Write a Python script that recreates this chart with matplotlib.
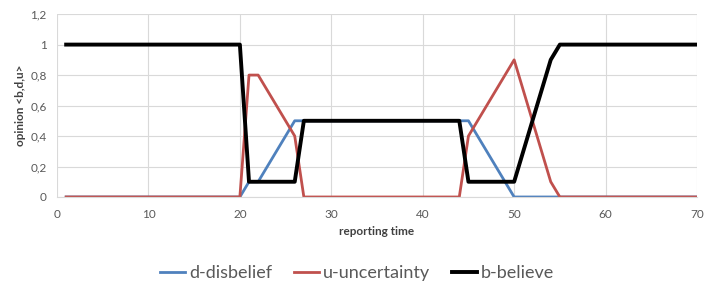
import matplotlib
matplotlib.use("Agg")
import matplotlib.pyplot as plt
from matplotlib.ticker import FuncFormatter, MultipleLocator

t = list(range(1, 71))
d_disbelief = ([0.0]*20 + [0.1, 0.1, 0.2, 0.3, 0.4, 0.5] + [0.5]*19 +
               [0.4, 0.3, 0.2, 0.1, 0.0] + [0.0]*20)
u_uncertainty = ([0.0]*20 + [0.8, 0.8, 0.7, 0.6, 0.5, 0.4] + [0.0]*18 +
                 [0.4, 0.5, 0.6, 0.7, 0.8, 0.9, 0.7, 0.5, 0.3, 0.1] + [0.0]*16)
b_believe = ([1.0]*20 + [0.1]*6 + [0.5]*18 + [0.1]*6 +
             [0.3, 0.5, 0.7, 0.9] + [1.0]*16)

plt.rcParams['font.family'] = ['Lato', 'DejaVu Sans']

fig = plt.figure(figsize=(7.1, 2.88), dpi=100)
ax = fig.add_axes([0.0803, 0.316, 0.9014, 0.635])

ax.plot(t, d_disbelief, color='#4F81BD', lw=2.0, label='d-disbelief')
ax.plot(t, u_uncertainty, color='#C0504D', lw=2.0, label='u-uncertainty')
ax.plot(t, b_believe, color='black', lw=2.8, label='b-believe')

ax.set_xlim(0, 70)
ax.set_ylim(0, 1.2)
ax.xaxis.set_major_locator(MultipleLocator(10))
ax.yaxis.set_major_locator(MultipleLocator(0.2))
ax.yaxis.set_major_formatter(FuncFormatter(lambda v, p: ('%g' % round(v, 1)).replace('.', ',')))
ax.grid(True, color='#D9D9D9', lw=0.8)
ax.set_axisbelow(True)
for s in ax.spines.values():
    s.set_visible(False)
ax.spines['bottom'].set_visible(True)
ax.spines['bottom'].set_color('#D9D9D9')
ax.tick_params(length=0, labelsize=8.5, colors='#595959')
ax.tick_params(axis='x', pad=9)
ax.tick_params(axis='y', pad=7.5)

ax.set_xlabel('reporting time', fontsize=8.5, fontweight='bold', color='#404040', labelpad=4)
ax.set_ylabel('opinion <b,d,u>', fontsize=8.5, fontweight='bold', color='#404040', labelpad=3)

fig.legend(loc='center', bbox_to_anchor=(0.503, 0.052), ncol=3, frameon=False,
           fontsize=13, handlelength=1.38, handletextpad=0.22, columnspacing=1.2,
           labelcolor='#595959')

fig.savefig('out.png', dpi=100)
